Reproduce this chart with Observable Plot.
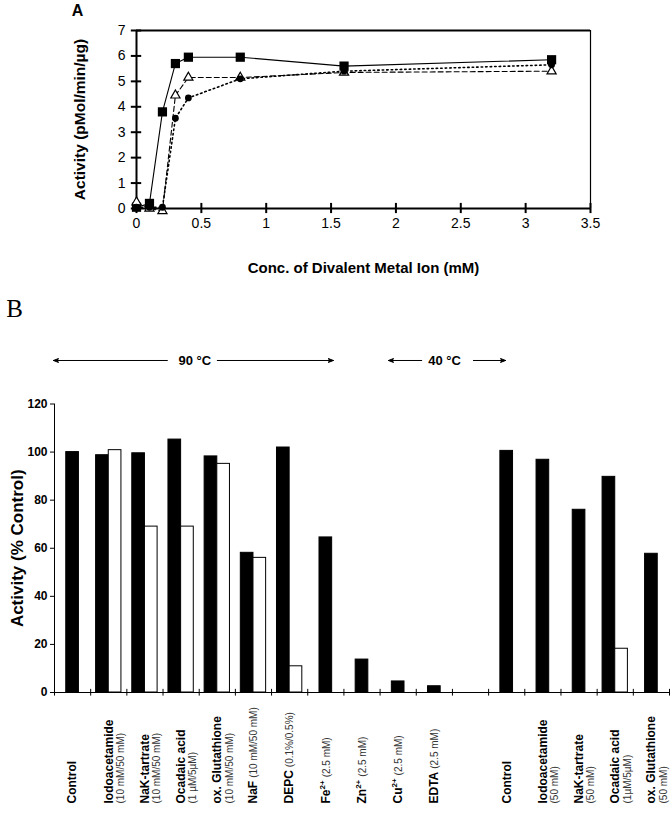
<!DOCTYPE html>
<html><head><meta charset="utf-8">
<script src="https://cdn.jsdelivr.net/npm/d3@7"></script>
<script src="https://cdn.jsdelivr.net/npm/@observablehq/plot@0.6"></script>
<style>
body{margin:0;background:#fff;}
#chart svg{display:block;}
</style></head><body><div id="chart"></div>
<script>
const FONT = "'Liberation Sans', Arial, Helvetica, sans-serif";

// ---------- Panel A data ----------
const conc = [0, 0.1, 0.2, 0.3, 0.4, 0.8, 1.6, 3.2];
const squareVals   = [0.05, 0.2, 3.8, 5.7, 5.95, 5.95, 5.6, 5.85];
const circleVals   = [0.05, 0.05, 0.05, 3.55, 4.35, 5.1, 5.4, 5.65];
const triangleVals = [0.25, 0.0, -0.1, 4.45, 5.15, 5.15, 5.35, 5.4];
const xTicksA = [0, 0.5, 1, 1.5, 2, 2.5, 3, 3.5];
const yTicksA = [0, 1, 2, 3, 4, 5, 6, 7];

// ---------- Panel B data ----------
const names = ["Control","Iodoacetamide","NaK-tartrate","Ocadaic acid","ox. Glutathione","NaF","DEPC","Fe","Zn","Cu","EDTA","","Control","Iodoacetamide","NaK-tartrate","Ocadaic acid","ox. Glutathione"];
const charges = ["","","","","","","","2+","2+","2+","","","","","","",""];
const conditions = ["","(10 mM/50 mM)","(10 mM/50 mM)","(1 µM/5µM)","(10 mM/50 mM)","(10 mM/50 mM)","(0.1%/0.5%)","(2.5 mM)","(2.5 mM)","(2.5 mM)","(2.5 mM)","","","(50 mM)","(50 mM)","(1µM/5µM)","(50 mM)"];
const twoLine = [false,true,true,true,true,false,false,false,false,false,false,false,false,true,true,true,true];
const blackVals = [100, 98.7, 99.5, 105.2, 98.2, 58.1, 101.9, 64.5, 13.7, 4.6, 2.6, null, 100.5, 96.8, 76, 89.7, 57.7];
const whiteVals = [null, 100.8, 69, 69, 95.1, 56, 10.9, null, null, null, null, null, null, null, null, 18.2, null];
const yTicksB = [0, 20, 40, 60, 80, 100, 120];
const tempLabels = ["90 °C", "40 °C"];

// ---------- Panel A ----------
const mk = (vals) => conc.map((c, i) => ({c, v: vals[i]}));
const sq = mk(squareVals), ci = mk(circleVals), tr = mk(triangleVals);

const plotA = Plot.plot({
  width: 672, height: 285,
  marginTop: 30, marginBottom: 77, marginLeft: 136, marginRight: 82,
  style: {fontFamily: FONT, fontSize: "14px", color: "#000", background: "#fff"},
  x: {domain: [0, 3.5], ticks: xTicksA, tickSize: 0, tickPadding: 10, tickFormat: d => String(d), label: null},
  y: {domain: [0, 7], ticks: yTicksA, tickSize: 0, tickPadding: 11, tickFormat: d => String(d), label: null},
  marks: [
    Plot.ruleY([7], {stroke: "#000", strokeWidth: 2}),
    Plot.ruleX([3.5], {stroke: "#000", strokeWidth: 1.2}),
    Plot.ruleX([0], {stroke: "#000", strokeWidth: 2}),
    Plot.ruleY([0], {stroke: "#000", strokeWidth: 2}),
    Plot.ruleY(yTicksA, {y: d => d, x1: -0.04, x2: 0.04, stroke: "#000", strokeWidth: 2}),
    Plot.ruleX(xTicksA, {x: d => d, y1: -0.2, y2: 0.2, stroke: "#000", strokeWidth: 2}),
    Plot.line(sq, {x: "c", y: "v", stroke: "#000", strokeWidth: 1.1}),
    Plot.line(tr, {x: "c", y: "v", stroke: "#000", strokeWidth: 1.1, strokeDasharray: "5,3"}),
    Plot.line(ci, {x: "c", y: "v", stroke: "#000", strokeWidth: 1.6, strokeDasharray: "1.5,3"}),
    Plot.dot(sq, {x: "c", y: "v", symbol: "square", r: 5.2, fill: "#000", stroke: "none"}),
    Plot.dot(tr, {x: "c", y: "v", symbol: "triangle", r: 3.4, fill: "#fff", stroke: "#000", strokeWidth: 1.2}),
    Plot.dot(ci, {x: "c", y: "v", symbol: "circle", r: 3.4, fill: "#000", stroke: "none"}),
    Plot.text(["A"], {text: d => d, frameAnchor: "top-left", textAnchor: "middle", lineAnchor: "middle", dx: -59, dy: -20, fontWeight: "bold", fontSize: 16}),
    Plot.text(["Activity (pMol/min/µg)"], {text: d => d, frameAnchor: "left", textAnchor: "middle", lineAnchor: "middle", dx: -56, rotate: -90, fontWeight: "bold", fontSize: 15.5}),
    Plot.text(["Conc. of Divalent Metal Ion (mM)"], {text: d => d, frameAnchor: "bottom", textAnchor: "middle", lineAnchor: "middle", dy: 60, fontWeight: "bold", fontSize: 15})
  ]
});

// ---------- Panel B ----------
const BW = 0.35; // bar width in category units
const bars = [];
names.forEach((n, i) => {
  const b = blackVals[i], w = whiteVals[i];
  const c = i + 0.5;
  if (b != null && w != null) {
    bars.push({x1: c - BW, x2: c, v: b, kind: "black"});
    bars.push({x1: c, x2: c + BW, v: w, kind: "white"});
  } else if (b != null) {
    bars.push({x1: c - BW / 2, x2: c + BW / 2, v: b, kind: "black"});
  }
});
const labelRows = names.map((n, i) => ({i, name: n, charge: charges[i], cond: conditions[i], two: twoLine[i]})).filter(d => d.name !== "");

const headerY = 138.1;
const arrows = [
  {x1: 3.12, x2: -0.03}, {x1: 4.5, x2: 7.71},
  {x1: 10.15, x2: 9.23}, {x1: 11.58, x2: 12.47}
];
const headerText = [{label: tempLabels[0], x: 3.88}, {label: tempLabels[1], x: 10.78}];

const plotB = Plot.plot({
  width: 672, height: 530,
  marginTop: 118.5, marginBottom: 123, marginLeft: 54, marginRight: 3,
  style: {fontFamily: FONT, fontSize: "12px", fontWeight: "bold", color: "#000", background: "#fff"},
  x: {domain: [0, 17], axis: null},
  y: {domain: [0, 120], ticks: yTicksB, tickSize: 4, tickPadding: 3, tickFormat: d => String(d), label: null},
  marks: [
    Plot.rect(bars, {x1: "x1", x2: "x2", y1: 0, y2: "v", fill: d => d.kind === "black" ? "#000" : "#fff", stroke: "#000", strokeWidth: 1}),
    Plot.ruleX([0], {stroke: "#000", strokeWidth: 1}),
    Plot.ruleY([0], {stroke: "#000", strokeWidth: 1.2}),
    Plot.ruleX(d3.range(18), {x: d => d, y1: -1.5, y2: 1.3, stroke: "#000", strokeWidth: 1}),
    Plot.text(labelRows, {x: d => d.i + 0.5, y: 0, dy: 111, text: "name", rotate: -90, textAnchor: "start", lineAnchor: "middle", fontSize: 12, fontWeight: "bold"}),
    Plot.arrow(arrows, {x1: "x1", x2: "x2", y1: headerY, y2: headerY, headLength: 8, headAngle: 42, stroke: "#000", fill: "#000", strokeWidth: 1}),
    Plot.text(headerText, {x: "x", y: headerY, text: "label", fontSize: 13, fontWeight: "bold"}),
    Plot.text(["Activity (% Control)"], {text: d => d, frameAnchor: "left", textAnchor: "middle", lineAnchor: "middle", dx: -37, rotate: -90, fontSize: 17, fontWeight: "bold"}),
    Plot.text(["B"], {text: d => d, frameAnchor: "top-left", textAnchor: "middle", lineAnchor: "middle", dx: -40, dy: -95.5, fontFamily: "'Liberation Serif', 'Times New Roman', serif", fontWeight: "normal", fontSize: 25})
  ]
});

// Rich text for category labels (bold name, superscript charge, light condition)
const NS = "http://www.w3.org/2000/svg";
let labelEls = null;
plotB.querySelectorAll("g").forEach(g => {
  const ts = Array.from(g.children).filter(c => c.tagName === "text");
  if (!labelEls && ts.length === labelRows.length && ts[0].textContent === labelRows[0].name && ts[1].textContent === labelRows[1].name) labelEls = ts;
});
(labelEls || []).forEach((el, k) => {
  const d = labelRows[k];
  while (el.firstChild) el.removeChild(el.firstChild);
  const t1 = document.createElementNS(NS, "tspan");
  t1.textContent = d.name;
  el.appendChild(t1);
  let shift = 0;
  if (d.charge) {
    const s = document.createElementNS(NS, "tspan");
    s.textContent = d.charge;
    s.setAttribute("font-size", "8");
    s.setAttribute("dy", "-5");
    el.appendChild(s);
    shift = 5;
  }
  if (d.cond) {
    const t2 = document.createElementNS(NS, "tspan");
    t2.textContent = d.cond;
    t2.setAttribute("font-size", "10");
    t2.setAttribute("font-weight", "normal");
    t2.setAttribute("fill", "#333");
    if (d.two) {
      t2.setAttribute("x", "0");
      t2.setAttribute("dy", "11.5");
    } else {
      t2.setAttribute("dx", "3");
      if (shift) t2.setAttribute("dy", String(shift));
    }
    el.appendChild(t2);
  }
});

const root = document.getElementById("chart");
root.appendChild(plotA);
root.appendChild(plotB);
</script></body></html>
